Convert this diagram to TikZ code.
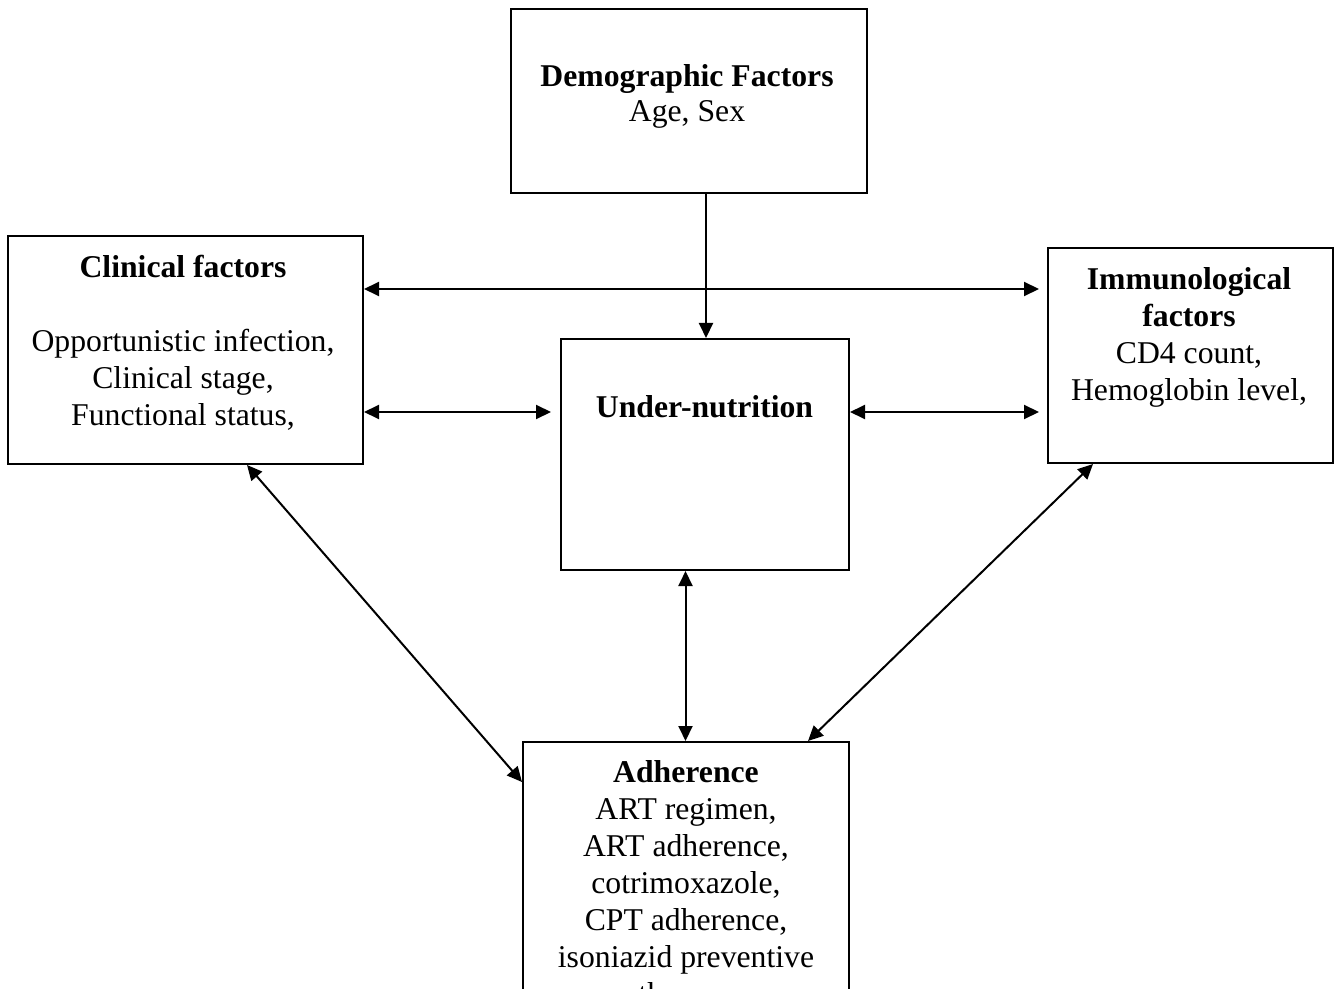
\documentclass[tikz,border=0pt]{standalone}
\usepackage{fontspec}
\setmainfont{Liberation Serif}
\usetikzlibrary{calc,arrows.meta}

\tikzset{
  factorbox/.style={draw,rectangle,line width=1pt,inner sep=0pt},
  factortext/.style={align=center,anchor=north,inner sep=0pt,font=\fontsize{15.85}{18.5}\selectfont},
  link/.style={line width=1pt,>={Triangle[length=7.5pt,width=7pt]}}
}

\begin{document}
\begin{tikzpicture}[x=0.5pt,y=-0.5pt]
\useasboundingbox (0,0) rectangle (1342,989);
\clip (0,0) rectangle (1342,989);

\draw node [factorbox,minimum width=178pt,minimum height=92pt] at (689,101) (demog){};
\draw node [factorbox,minimum width=177.5pt,minimum height=114pt] at (185.5,350) (clinical){};
\draw node [factorbox,minimum width=142.5pt,minimum height=107.5pt] at (1190.5,355.5) (immuno){};
\draw node [factorbox,minimum width=144pt,minimum height=115.5pt] at (705,454.5) (nutrition){};
\draw node [factorbox,minimum width=163pt,minimum height=129pt] at (686,871) (adherence){};

\draw node [factortext] at ($ (demog.north)+(-2,52) $) (demogtext){\strut\textbf{Demographic Factors}\\[-1pt]Age, Sex};
\draw node [factortext] at ($ (clinical.north)+(-2.5,16.5) $) (clinicaltext){\strut\textbf{Clinical factors}\\[18.5pt]Opportunistic infection,\\Clinical stage,\\Functional status,};
\draw node [factortext] at ($ (immuno.north)+(-1.5,16.5) $) (immunotext){\strut\textbf{Immunological}\\\textbf{factors}\\CD4 count,\\Hemoglobin level,};
\draw node [factortext] at ($ (nutrition.north)+(-0.5,53.5) $) (nutritiontext){\strut\textbf{Under-nutrition}};
\draw node [factortext] at ($ (adherence.north)+(0,15.5) $) (adherencetext){\strut\textbf{Adherence}\\ART regimen,\\ART adherence,\\cotrimoxazole,\\CPT adherence,\\isoniazid preventive\\therapy};

\draw[link,->] ($ (demog.south)+(17,0) $) -- ($ (nutrition.north)+(1,0) $);

\draw[link,<->] ($ (clinical.east)+(0,-61) $) -- ($ (immuno.west)+(-8,-66.5) $);
\draw[link,<->] ($ (clinical.east)+(0,62) $) -- ($ (nutrition.west)+(-9,-42.5) $);
\draw[link,<->] ($ (nutrition.east)+(0,-42.5) $) -- ($ (immuno.west)+(-8,56.5) $);

\draw[link,<->] ($ (clinical.south)+(61.5,0) $) -- ($ (adherence.west)+(0,-89) $);
\draw[link,<->] ($ (nutrition.south)+(-19.5,0) $) -- ($ (adherence.north)+(-0.5,0) $);
\draw[link,<->] ($ (immuno.south)+(-97.5,0) $) -- ($ (adherence.north)+(122,0) $);

\end{tikzpicture}
\end{document}
